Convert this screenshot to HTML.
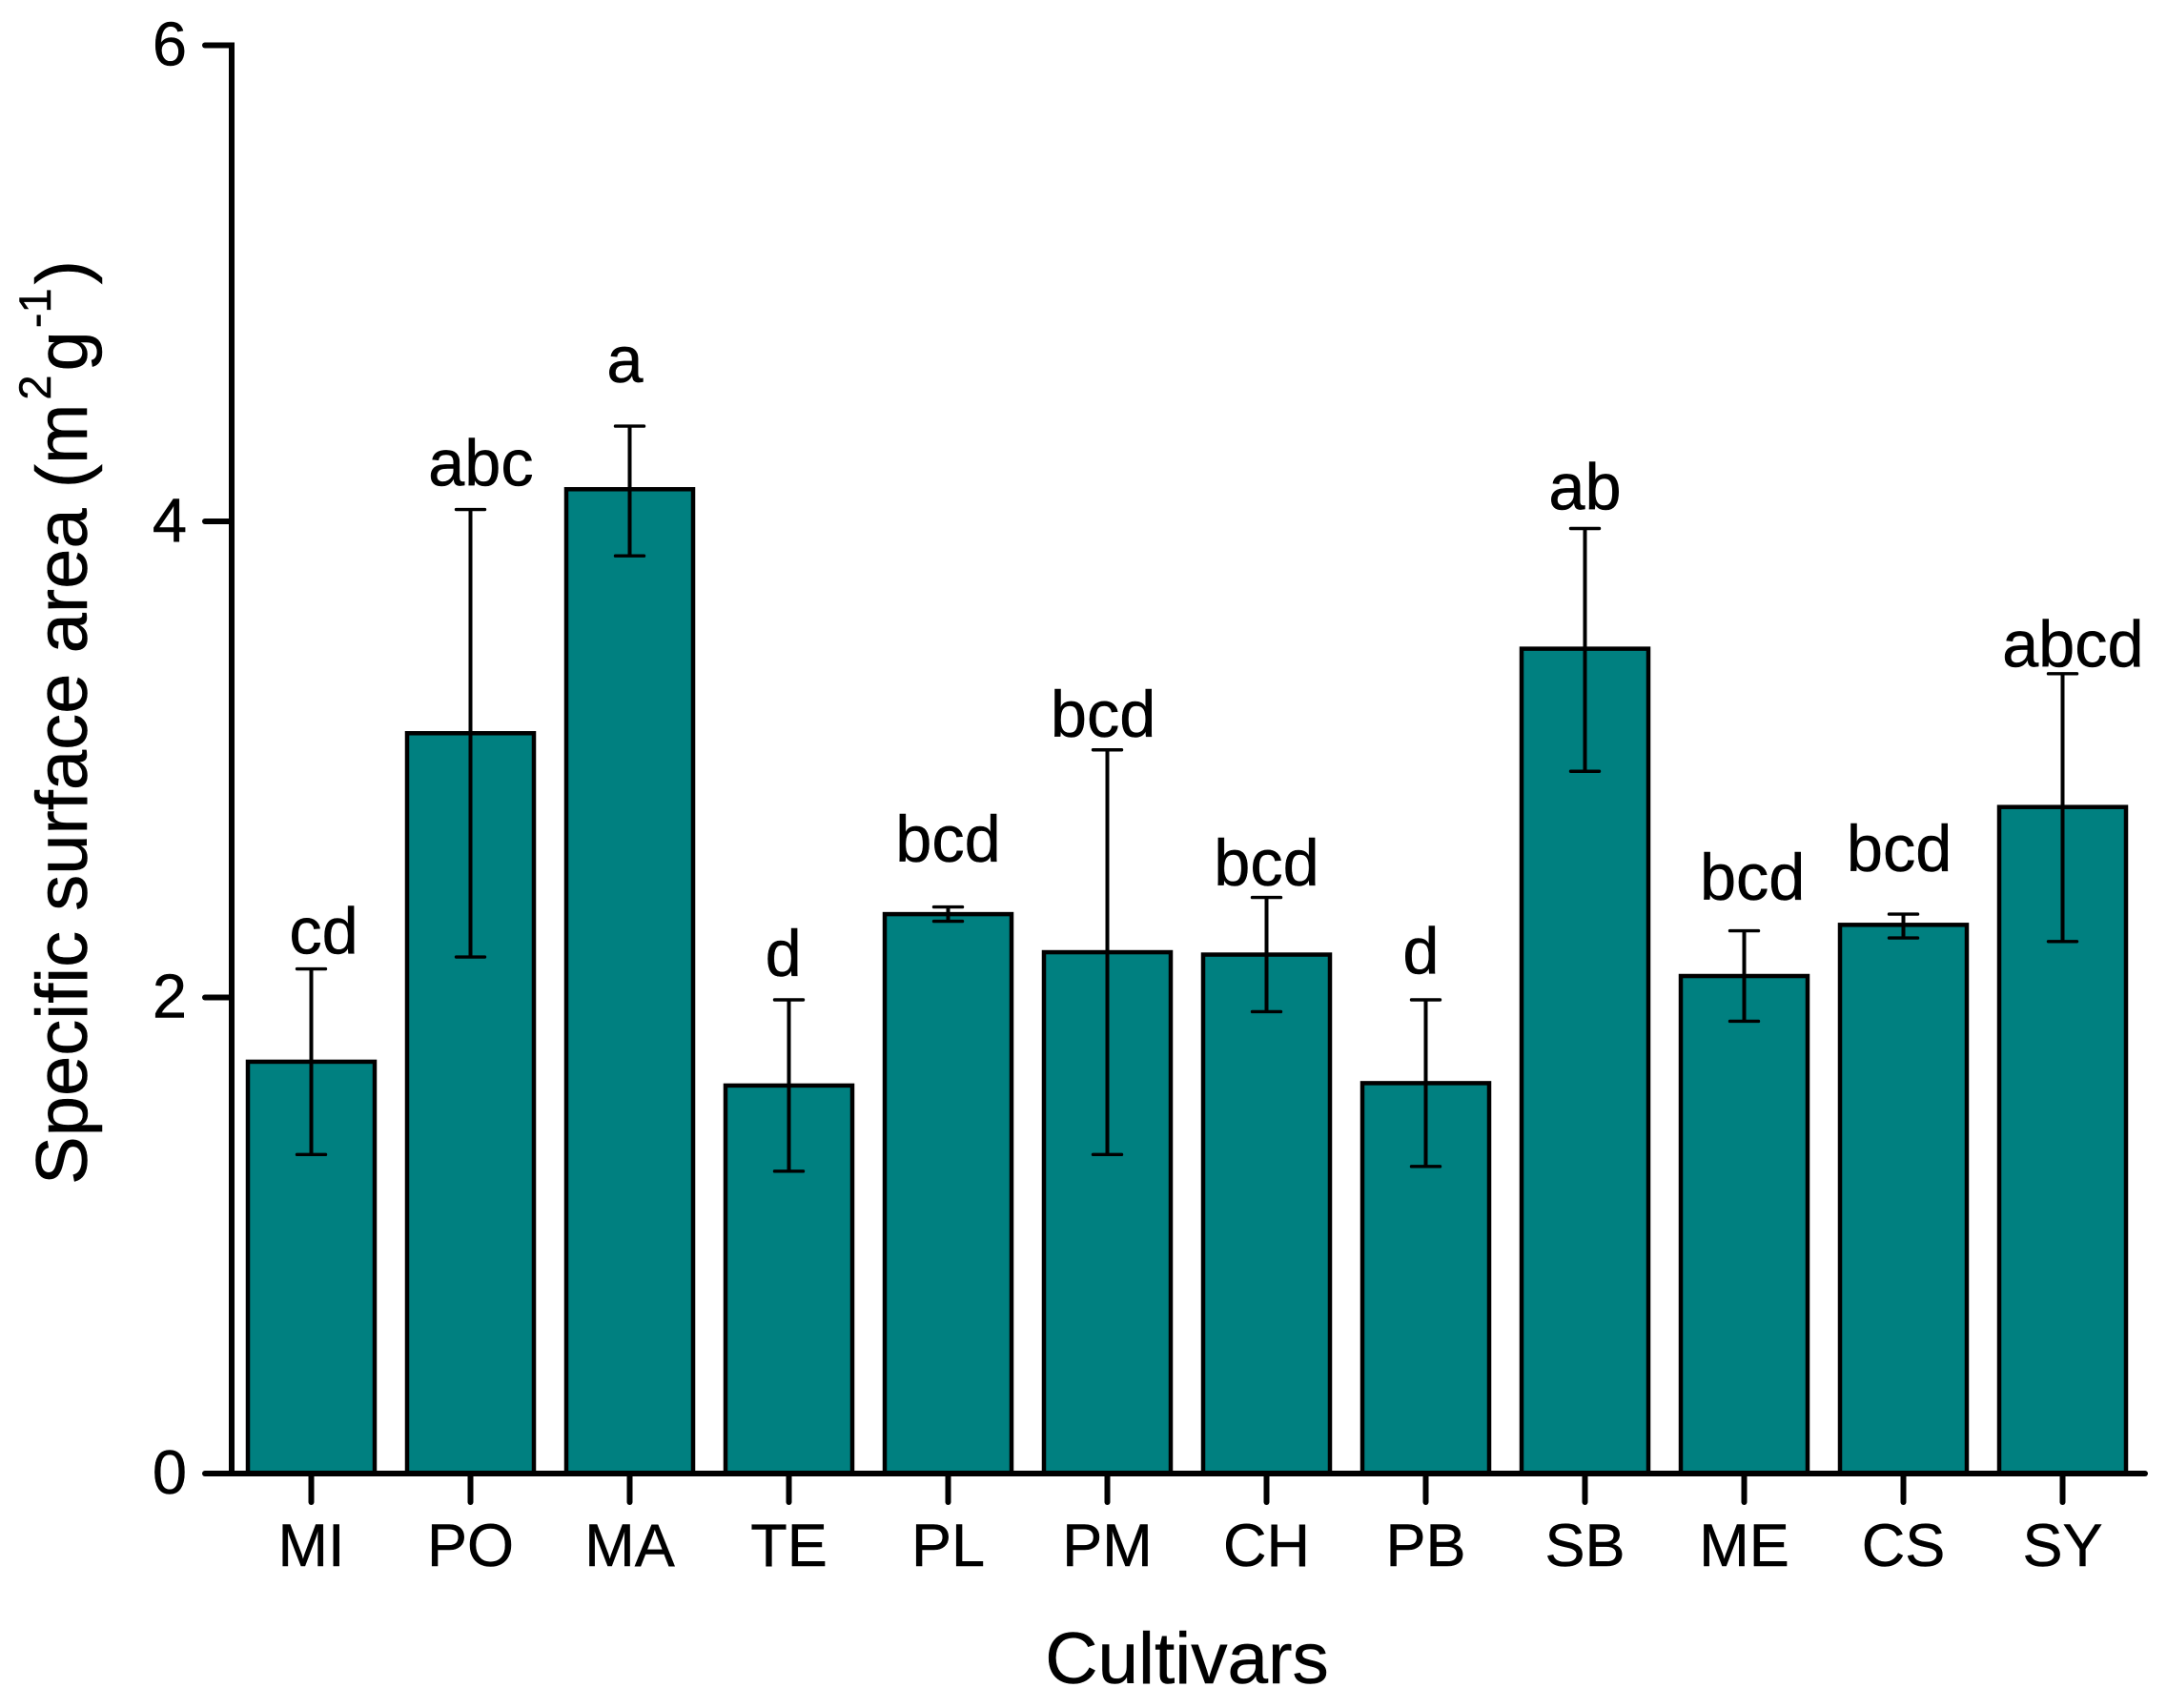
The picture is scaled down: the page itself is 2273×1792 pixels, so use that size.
<!DOCTYPE html>
<html lang="en">
<head>
<meta charset="utf-8">
<title>Specific surface area by cultivar</title>
<style>
html,body{margin:0;padding:0;background:#fff;width:2273px;height:1792px;overflow:hidden}
svg{display:block}
text{font-family:"Liberation Sans",Arial,sans-serif;fill:#000;stroke:#000;stroke-width:0.5px}
</style>
</head>
<body>
<svg id="chart" xmlns="http://www.w3.org/2000/svg" width="2273" height="1792" viewBox="0 0 2273 1792">
<rect x="0" y="0" width="2273" height="1792" fill="#fff"/>
<g id="bars"></g>
<g id="errors"></g>
<g id="letters"></g>
<g id="axes"></g>
<text x="1245" y="1766" font-size="76.5" text-anchor="middle">Cultivars</text>
<text transform="translate(91,1243) rotate(-90)" font-size="76">Specific surface area (m<tspan font-size="47" dx="4" dy="-38">2</tspan><tspan dx="4" dy="38">g</tspan><tspan font-size="47" dx="3" dy="-38">-1</tspan><tspan dx="4" dy="38">)</tspan></text>
</svg>
<script>
const categories = ["MI","PO","MA","TE","PL","PM","CH","PB","SB","ME","CS","SY"];
const means = [1.73,3.11,4.135,1.63,2.35,2.19,2.18,1.64,3.465,2.09,2.305,2.80];
const errorHigh = [2.12,4.05,4.40,1.99,2.38,3.04,2.42,1.99,3.97,2.28,2.35,3.36];
const errorLow = [1.34,2.17,3.855,1.27,2.32,1.34,1.94,1.29,2.95,1.90,2.25,2.235];
const letters = ["cd","abc","a","d","bcd","bcd","bcd","d","ab","bcd","bcd","abcd"];
const letterLift = [0.065,0.10,0.185,0.10,0.19,0.055,0.05,0.11,0.08,0.13,0.18,0.03];
const letterShift = [0.078,0.065,-0.03,-0.035,0,-0.026,0,-0.03,0,0.052,-0.026,0.065];
const yTicks = [0,2,4,6];

const NS = "http://www.w3.org/2000/svg";
const Y0 = 1546, Y_PER_UNIT = (1546 - 47.5) / 6;
const X0 = 326.5, X_STEP = 167;
const BAR_W = 133;
const AXIS_X = 243, AXIS_RIGHT = 2250;
const yScale = v => Y0 - v * Y_PER_UNIT;
const xScale = i => X0 + i * X_STEP;

function mk(tag, attrs, parent, txt) {
  const el = document.createElementNS(NS, tag);
  for (const k in attrs) el.setAttribute(k, attrs[k]);
  if (txt !== undefined) el.textContent = txt;
  parent.appendChild(el);
  return el;
}
const gBars = document.getElementById("bars");
const gErr = document.getElementById("errors");
const gLet = document.getElementById("letters");
const gAxes = document.getElementById("axes");

categories.forEach((c, i) => {
  const key = c.toLowerCase();
  const x = xScale(i);
  const bar = mk("rect", {x: x - BAR_W / 2, y: yScale(means[i]), width: BAR_W, height: Y0 - yScale(means[i]), fill: "#008080", stroke: "#000", "stroke-width": 4.5}, gBars);
  
  

  const g = mk("g", {stroke: "#000", fill: "none"}, gErr);
  
  
  mk("line", {x1: x, x2: x, y1: yScale(errorHigh[i]), y2: yScale(errorLow[i]), "stroke-width": 4}, g);
  mk("line", {x1: x - 15, x2: x + 15, y1: yScale(errorHigh[i]), y2: yScale(errorHigh[i]), "stroke-width": 3.4, "stroke-linecap": "round"}, g);
  mk("line", {x1: x - 15, x2: x + 15, y1: yScale(errorLow[i]), y2: yScale(errorLow[i]), "stroke-width": 3.4, "stroke-linecap": "round"}, g);

  const lab = mk("text", {x: x + letterShift[i] * X_STEP, y: yScale(errorHigh[i] + letterLift[i]), "font-size": 68.5, "text-anchor": "middle"}, gLet, letters[i]);
  
  

  const tick = mk("line", {x1: x, x2: x, y1: Y0, y2: Y0 + 30, stroke: "#000", "stroke-width": 6, "stroke-linecap": "round"}, gAxes);
  
  

  const tl = mk("text", {x: x, y: 1643, "font-size": 63, "text-anchor": "middle"}, gAxes, c);
  
  
});

const yAxisLine = mk("line", {x1: AXIS_X, x2: AXIS_X, y1: yScale(6) - 3, y2: Y0, stroke: "#000", "stroke-width": 6}, gAxes);



const xAxisLine = mk("line", {x1: AXIS_X, x2: AXIS_RIGHT, y1: Y0, y2: Y0, stroke: "#000", "stroke-width": 6, "stroke-linecap": "round"}, gAxes);



yTicks.forEach(v => {
  const y = yScale(v);
  const t = mk("line", {x1: 215, x2: AXIS_X, y1: y, y2: y, stroke: "#000", "stroke-width": 6, "stroke-linecap": "round"}, gAxes);
  
  
  const l = mk("text", {x: 196, y: y + 21, "font-size": 65, "text-anchor": "end"}, gAxes, String(v));
  
  
});
</script>
</body>
</html>
